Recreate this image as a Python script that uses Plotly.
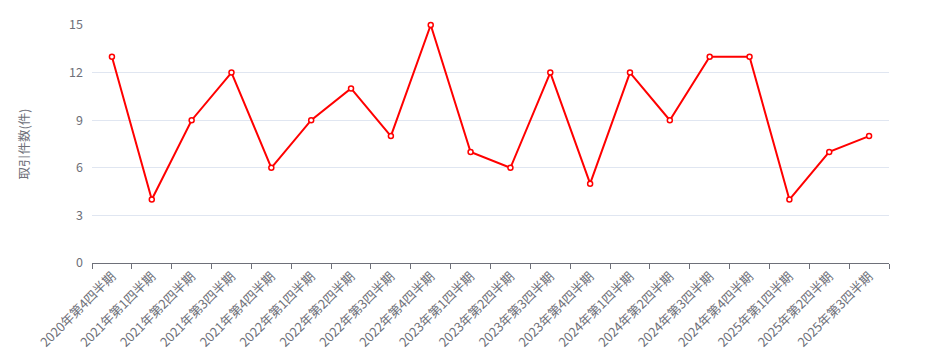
import plotly.graph_objects as go

categories = ["2020年第4四半期", "2021年第1四半期", "2021年第2四半期", "2021年第3四半期",
              "2021年第4四半期", "2022年第1四半期", "2022年第2四半期", "2022年第3四半期",
              "2022年第4四半期", "2023年第1四半期", "2023年第2四半期", "2023年第3四半期",
              "2023年第4四半期", "2024年第1四半期", "2024年第2四半期", "2024年第3四半期",
              "2024年第4四半期", "2025年第1四半期", "2025年第2四半期", "2025年第3四半期"]
values = [13, 4, 9, 12, 6, 9, 11, 8, 15, 7, 6, 12, 5, 12, 9, 13, 13, 4, 7, 8]
y_ticks = [0, 3, 6, 9, 12, 15]

font_family = "Noto Sans CJK JP, Noto Sans, sans-serif"
axis_color = "#6E7079"

fig = go.Figure()
fig.add_trace(go.Scatter(
    x=categories, y=values, mode="lines+markers",
    line=dict(color="#FF0000", width=2),
    marker=dict(size=5, color="#FFFFFF", line=dict(color="#FF0000", width=1.5)),
    cliponaxis=False,
    showlegend=False,
))

fig.update_layout(
    width=927, height=350,
    margin=dict(l=92, r=38, t=25, b=87),
    paper_bgcolor="white", plot_bgcolor="white",
    font=dict(family=font_family, size=12, color=axis_color),
    xaxis=dict(
        type="category", range=[-0.5, len(categories) - 0.5],
        tickson="boundaries", ticks="outside", ticklen=5, tickcolor=axis_color,
        showline=True, linecolor=axis_color, linewidth=1,
        showgrid=False, tickangle=-45, tickfont=dict(size=12.8, color=axis_color),
        zeroline=False, automargin=False,
    ),
    yaxis=dict(
        range=[0, 15], tickvals=y_ticks, showline=False,
        gridcolor="#E0E6F1", gridwidth=1, zeroline=False,
        tickfont=dict(size=12.5, color=axis_color), ticklabelstandoff=8,
        title=dict(text="取引件数(件)", font=dict(size=12.5, color=axis_color), standoff=36),
        automargin=False,
    ),
)

fig.write_html("out.html")
